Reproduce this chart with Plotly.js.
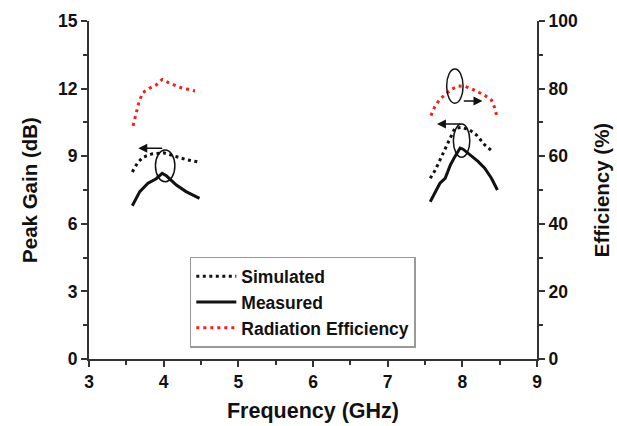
<!DOCTYPE html>
<html>
<head>
<meta charset="utf-8">
<script src="https://cdn.plot.ly/plotly-3.0.1.min.js"></script>
<style>html,body{margin:0;padding:0;background:#fff;}#chart{width:617px;height:426px;}</style>
</head>
<body>
<div id="chart"></div>
<script>
// Low band (GHz)
var simLowX = [3.58, 3.65, 3.72, 3.84, 4.0, 4.1, 4.2, 4.3, 4.45];
var simLowY = [8.3, 8.7, 8.95, 9.1, 9.15, 9.05, 8.95, 8.85, 8.75];
var measLowX = [3.58, 3.68, 3.79, 3.9, 3.98, 4.04, 4.17, 4.3, 4.48];
var measLowY = [6.8, 7.43, 7.8, 8.0, 8.24, 8.12, 7.72, 7.43, 7.13];
var effLowX = [3.59, 3.63, 3.67, 3.72, 3.81, 3.9, 3.98, 4.07, 4.16, 4.25, 4.33, 4.42];
var effLowY = [69, 72.8, 76.1, 78.8, 80.1, 81.1, 82.7, 81.7, 80.8, 80.1, 79.8, 79.3];
// High band (GHz)
var simHighX = [7.57, 7.64, 7.7, 7.77, 7.84, 7.9, 7.99, 8.1, 8.19, 8.3, 8.39];
var simHighY = [8.02, 8.4, 8.83, 9.3, 9.8, 10.24, 10.28, 10.16, 9.94, 9.5, 9.25];
var measHighX = [7.57, 7.64, 7.7, 7.77, 7.84, 7.9, 7.97, 8.01, 8.1, 8.21, 8.3, 8.39, 8.47];
var measHighY = [6.98, 7.43, 7.8, 8.02, 8.61, 8.98, 9.36, 9.31, 9.06, 8.77, 8.47, 8.02, 7.5];
var effHighX = [7.58, 7.63, 7.7, 7.78, 7.86, 7.95, 8.04, 8.12, 8.21, 8.3, 8.39, 8.43, 8.47];
var effHighY = [72.0, 74.6, 76.9, 78.5, 79.9, 80.8, 80.6, 80.0, 79.1, 78.0, 76.6, 74.5, 71.2];

var xTicks = [3, 4, 5, 6, 7, 8, 9];
var gainTicks = [0, 3, 6, 9, 12, 15];
var effTicks = [0, 20, 40, 60, 80, 100];

function join(a, b) { return a.concat([null], b); }

var FONT = 'Liberation Sans, Arial, sans-serif';
var bold = function (s) { return {family: FONT, size: s, color: '#111', weight: 'bold'}; };

var traces = [
  {x: join(simLowX, simHighX), y: join(simLowY, simHighY), name: 'Simulated', mode: 'lines',
   line: {color: '#111', width: 3, dash: '3px,3.5px'}, connectgaps: false},
  {x: join(measLowX, measHighX), y: join(measLowY, measHighY), name: 'Measured', mode: 'lines',
   line: {color: '#111', width: 3}, connectgaps: false},
  {x: join(effLowX, effHighX), y: join(effLowY, effHighY), name: 'Radiation Efficiency', mode: 'lines',
   yaxis: 'y2', line: {color: '#ff1a1a', width: 3, dash: '3px,4px'}, connectgaps: false}
];

var axisCommon = {
  showgrid: false, zeroline: false, showline: true, linecolor: '#333', linewidth: 2,
  ticks: 'outside', ticklen: 6, tickwidth: 2, tickcolor: '#333', tickfont: bold(17.5)
};

var layout = {
  width: 617, height: 426,
  margin: {l: 89, r: 80, t: 21, b: 67},
  paper_bgcolor: '#fff', plot_bgcolor: '#fff',
  showlegend: true,
  legend: {x: 0.225, y: 0.302, xanchor: 'left', yanchor: 'top', bordercolor: '#999', borderwidth: 1.5,
           bgcolor: '#fff', font: bold(17.5), itemwidth: 40, tracegroupgap: 0},
  xaxis: Object.assign({}, axisCommon, {
    range: [3, 9], tickvals: xTicks, ticktext: xTicks.map(String),
    minor: {dtick: 0.5, ticks: 'outside', ticklen: 4, tickwidth: 2, tickcolor: '#333'},
    title: {text: 'Frequency (GHz)', font: bold(21.5), standoff: 12}
  }),
  yaxis: Object.assign({}, axisCommon, {
    range: [0, 15], tickvals: gainTicks, ticktext: gainTicks.map(String),
    minor: {dtick: 1.5, ticks: 'outside', ticklen: 4, tickwidth: 2, tickcolor: '#333'},
    title: {text: 'Peak Gain (dB)', font: bold(20.5), standoff: 15}
  }),
  yaxis2: Object.assign({}, axisCommon, {
    range: [0, 100], overlaying: 'y', side: 'right', tickvals: effTicks, ticktext: effTicks.map(String),
    minor: {dtick: 10, ticks: 'outside', ticklen: 4, tickwidth: 2, tickcolor: '#333'},
    title: {text: 'Efficiency (%)', font: bold(20.5), standoff: 18}
  }),
  shapes: [
    {type: 'circle', xref: 'x', yref: 'y', x0: 3.89, x1: 4.15, y0: 7.87, y1: 9.28, line: {color: '#111', width: 1.5}},
    {type: 'circle', xref: 'x', yref: 'y', x0: 7.79, x1: 8.01, y0: 11.35, y1: 12.87, line: {color: '#111', width: 1.5}},
    {type: 'circle', xref: 'x', yref: 'y', x0: 7.88, x1: 8.10, y0: 8.95, y1: 10.43, line: {color: '#111', width: 1.5}}
  ],
  annotations: [
    {x: 3.66, y: 9.35, ax: 4.0, ay: 9.35, axref: 'x', ayref: 'y', xref: 'x', yref: 'y', text: '',
     showarrow: true, arrowhead: 2, arrowwidth: 1.5, arrowsize: 1.2, arrowcolor: '#111'},
    {x: 8.27, y: 11.45, ax: 8.0, ay: 11.45, axref: 'x', ayref: 'y', xref: 'x', yref: 'y', text: '',
     showarrow: true, arrowhead: 2, arrowwidth: 1.5, arrowsize: 1.2, arrowcolor: '#111'},
    {x: 7.66, y: 10.43, ax: 7.99, ay: 10.43, axref: 'x', ayref: 'y', xref: 'x', yref: 'y', text: '',
     showarrow: true, arrowhead: 2, arrowwidth: 1.5, arrowsize: 1.2, arrowcolor: '#111'}
  ]
};

Plotly.newPlot('chart', traces, layout, {displayModeBar: false, staticPlot: true});
</script>
</body>
</html>
